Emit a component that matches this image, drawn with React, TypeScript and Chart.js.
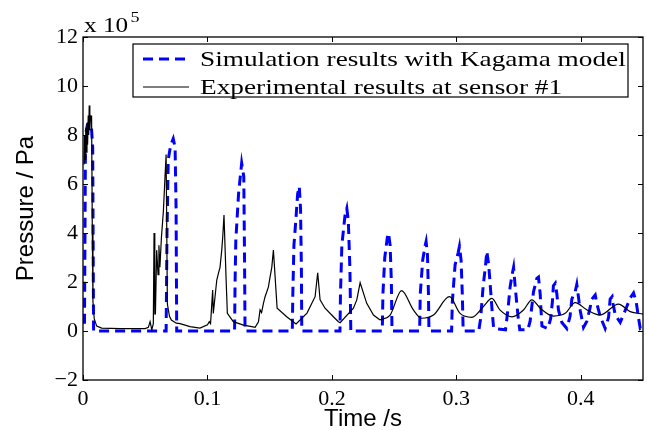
import React, { useEffect, useRef } from 'react';
import { Chart, registerables } from 'chart.js';

Chart.register(...registerables);

// Simulation (Kagama model), pressure in units of 1e5 Pa
const simTime = [
  0.0012, 0.0016, 0.002, 0.0035, 0.005, 0.0068, 0.0078, 0.0082, 0.0085,
  0.0668, 0.0675, 0.0685, 0.0705, 0.0725, 0.074, 0.0748, 0.0753,
  0.1218, 0.1222, 0.1228, 0.125, 0.1275, 0.1292, 0.1298, 0.1302,
  0.1682, 0.1686, 0.1695, 0.171, 0.1725, 0.1738, 0.1748, 0.1755, 0.1758,
  0.2065, 0.2069, 0.208, 0.2105, 0.212, 0.2132, 0.2145, 0.2152,
  0.2405, 0.241, 0.2425, 0.2445, 0.2455, 0.2468, 0.2478, 0.2483,
  0.2705, 0.271, 0.273, 0.275, 0.2757, 0.2768, 0.2776, 0.278,
  0.2962, 0.2968, 0.299, 0.3015, 0.3025, 0.3038, 0.3048, 0.3055,
  0.318, 0.3195, 0.3215, 0.3235, 0.3245, 0.326, 0.3275, 0.3288, 0.33,
  0.3395, 0.3406, 0.3419, 0.3432, 0.3452, 0.346, 0.3473, 0.3486, 0.3499, 0.351,
  0.3575, 0.3593, 0.362, 0.3647, 0.366, 0.3674, 0.368, 0.3688, 0.3735,
  0.3758, 0.3772, 0.378, 0.3795, 0.3808, 0.3821, 0.3848, 0.3888,
  0.3914, 0.3928, 0.3955, 0.3968, 0.3981, 0.3995, 0.4022,
  0.4049, 0.4075, 0.4089, 0.4116, 0.413, 0.4156, 0.4196,
  0.4223, 0.4236, 0.4252, 0.426, 0.4277, 0.4317,
  0.437, 0.4397, 0.4424, 0.4445, 0.4462, 0.4478, 0.45,
];
const simPressure = [
  0.3, 4.0, 8.0, 8.4, 8.5, 8.3, 7.5, 3.0, 0,
  0, 4.0, 7.0, 7.6, 7.85, 7.5, 5.0, 0,
  0, 2.0, 3.7, 5.6, 6.85, 6.3, 3.0, 0,
  0, 1.5, 3.5, 4.5, 5.6, 5.9, 5.0, 2.5, 0,
  0, 1.5, 3.5, 4.7, 5.0, 4.5, 2.5, 0,
  0, 1.5, 3.0, 3.8, 4.0, 3.5, 2.0, 0,
  0, 1.5, 2.9, 3.5, 3.65, 3.1, 1.5, 0,
  0, 1.2, 2.7, 3.2, 3.45, 2.9, 1.5, 0,
  0, 0.5, 1.8, 2.7, 3.25, 2.7, 1.7, 0.8, 0.1,
  0.05, 0.5, 1.1, 1.8, 2.4, 2.6, 1.8, 1.1, 0.45, 0.05,
  0.05, 0.4, 1.6, 2.15, 2.2, 1.5, 0.9, 0.2, 0.1,
  0.5, 1.2, 1.85, 1.95, 1.5, 0.85, 0.35, 0.1,
  0.6, 1.3, 1.6, 1.9, 1.4, 0.85, 0.15,
  0.4, 0.95, 1.3, 1.47, 1.1, 0.6, 0.1,
  0.55, 1.3, 1.4, 1.1, 0.65, 0.35,
  1.0, 1.35, 1.55, 1.2, 0.6, 0.1, 0.15,
];

// Experimental results at sensor #1, pressure in units of 1e5 Pa
const expTime = [
  0.0008, 0.0012, 0.0017, 0.0022, 0.0027, 0.0032, 0.0037, 0.0042, 0.0046, 0.005,
  0.0055, 0.006, 0.0065, 0.0069, 0.0075, 0.008, 0.009, 0.011, 0.015, 0.03,
  0.05, 0.0525, 0.0539, 0.0553, 0.0565, 0.0571, 0.0577, 0.0582, 0.0592, 0.0603,
  0.061, 0.0618, 0.063, 0.0646, 0.066, 0.0668, 0.0678, 0.0695, 0.071, 0.075,
  0.078, 0.086, 0.094, 0.1, 0.1015, 0.1025, 0.1042, 0.1047, 0.1061, 0.1075,
  0.1088, 0.1101, 0.1115, 0.1123, 0.1133, 0.115, 0.116, 0.1208, 0.1289, 0.1356,
  0.1383, 0.141, 0.1423, 0.1435, 0.145, 0.1463, 0.1477, 0.149, 0.1503, 0.1517,
  0.153, 0.156, 0.1637, 0.1704, 0.1712, 0.18, 0.1865, 0.1886, 0.1905, 0.1945,
  0.2012, 0.2052, 0.2066, 0.2173, 0.22, 0.2227, 0.228, 0.2334, 0.2387,
  0.2468, 0.256, 0.2655, 0.272, 0.2816, 0.2945, 0.303, 0.3125, 0.3218, 0.3285,
  0.335, 0.3446, 0.354, 0.3607, 0.3674, 0.378, 0.3875, 0.3955, 0.405, 0.4156,
  0.4303, 0.4397, 0.45,
];
const expPressure = [
  6.8, 8.0, 7.0, 8.3, 7.3, 8.5, 7.6, 8.8, 8.0, 9.2,
  8.2, 8.8, 8.6, 8.8, 4.0, 1.2, 0.5, 0.2, 0.12, 0.1,
  0.1, 0.15, 0.38, 0.05, 0.3, 4.0, 0.7, 0.7, 3.3, 2.3,
  3.5, 2.6, 3.8, 4.9, 6.4, 7.2, 1.1, 0.6, 0.45, 0.32,
  0.3, 0.18, 0.12, 0.25, 0.38, 0.3, 1.67, 0.72, 1.4, 2.08,
  2.35, 2.6, 3.3, 3.85, 4.73, 2.1, 0.72, 0.38, 0.24, 0.18,
  0.15, 0.38, 0.86, 0.75, 1.13, 1.4, 1.6, 1.8, 2.2, 2.6,
  3.3, 0.93, 0.58, 0.32, 0.29, 0.73, 1.4, 2.38, 1.27, 0.93,
  0.58, 0.38, 0.34, 0.93, 1.27, 1.97, 1.13, 0.65, 0.45,
  0.65, 1.65, 0.86, 0.52, 0.65, 1.4, 0.72, 0.56, 1.0, 1.33,
  0.86, 0.58, 0.86, 1.27, 0.93, 0.61, 0.72, 1.16, 0.86, 0.65,
  1.1, 0.79, 0.69,
];
// the later, smooth part of the experimental trace is drawn with monotone interpolation
const expSmoothFrom = 0.2387;

const xTicks = [0, 0.1, 0.2, 0.3, 0.4];
const yTicks = [-2, 0, 2, 4, 6, 8, 10, 12];
const xMin = 0;
const xMax = 0.45;
const yMin = -2;
const yMax = 12;
const simLabel = 'Simulation results with Kagama model';
const expLabel = 'Experimental results at sensor #1';
const xTitle = 'Time /s';
const yTitle = 'Pressure / Pa';
const yMultiplierBase = 'x 10';
const yMultiplierExp = '5';

const SERIF = '"Liberation Serif", "Times New Roman", serif';
const SANS = '"Liberation Sans", Arial, sans-serif';

const decorPlugin = {
  id: 'decor',
  afterDatasetsDraw(chart: any) {
    const { ctx, chartArea: a, scales } = chart;
    const xs = scales.x;
    const ys = scales.y;
    ctx.save();
    ctx.strokeStyle = '#000';
    ctx.lineWidth = 1.3;
    ctx.setLineDash([]);
    ctx.strokeRect(a.left, a.top, a.right - a.left, a.bottom - a.top);
    ctx.lineWidth = 1;
    const tl = 5;
    ctx.beginPath();
    for (const t of xs.ticks) {
      const px = Math.round(xs.getPixelForValue(t.value)) + 0.5;
      ctx.moveTo(px, a.bottom);
      ctx.lineTo(px, a.bottom - tl);
      ctx.moveTo(px, a.top);
      ctx.lineTo(px, a.top + tl);
    }
    for (const t of ys.ticks) {
      const py = Math.round(ys.getPixelForValue(t.value)) + 0.5;
      ctx.moveTo(a.left, py);
      ctx.lineTo(a.left + tl, py);
      ctx.moveTo(a.right, py);
      ctx.lineTo(a.right - tl, py);
    }
    ctx.stroke();

    // multiplier label "x 10^5"
    ctx.fillStyle = '#000';
    ctx.textBaseline = 'alphabetic';
    ctx.save();
    ctx.translate(a.left + 1, 32);
    ctx.scale(1.2, 1);
    ctx.font = `21px ${SERIF}`;
    ctx.fillText(yMultiplierBase, 0, 0);
    const w = ctx.measureText(yMultiplierBase).width;
    ctx.font = `15px ${SERIF}`;
    ctx.fillText(yMultiplierExp, w + 2, -10);
    ctx.restore();

    // legend box
    const lx = 133, ly = 44, lw = 495, lh = 53;
    ctx.fillStyle = '#fff';
    ctx.fillRect(lx, ly, lw, lh);
    ctx.strokeStyle = '#000';
    ctx.lineWidth = 1.2;
    ctx.strokeRect(lx, ly, lw, lh);

    const rows = [
      { label: chart.data.datasets[0].label, color: '#0000ff', width: 3, dash: [10, 6], y: 59 },
      { label: chart.data.datasets[1].label, color: '#000', width: 1.2, dash: [], y: 87 },
    ];
    for (const r of rows) {
      ctx.beginPath();
      ctx.strokeStyle = r.color;
      ctx.lineWidth = r.width;
      ctx.setLineDash(r.dash);
      ctx.moveTo(143, r.y);
      ctx.lineTo(189, r.y);
      ctx.stroke();
      ctx.setLineDash([]);
      ctx.save();
      ctx.translate(200, r.y + 1);
      ctx.scale(1.24, 1);
      ctx.font = `22px ${SERIF}`;
      ctx.fillStyle = '#000';
      ctx.textBaseline = 'middle';
      ctx.fillText(r.label, 0, 0);
      ctx.restore();
    }
    ctx.restore();
  },
};

export default function App() {
  const ref = useRef<HTMLCanvasElement | null>(null);

  useEffect(() => {
    if (!ref.current) return;
    const simPoints = simTime.map((t, i) => ({ x: t, y: simPressure[i] }));
    const expPoints = expTime.map((t, i) => ({ x: t, y: expPressure[i] }));
    const expEarly = expPoints.filter((p) => p.x <= expSmoothFrom);
    const expLate = expPoints.filter((p) => p.x >= expSmoothFrom);

    const chart = new Chart(ref.current, {
      type: 'line',
      data: {
        datasets: [
          {
            label: simLabel,
            data: simPoints,
            borderColor: '#0000ff',
            borderWidth: 3,
            borderDash: [10, 6],
            pointRadius: 0,
            tension: 0,
            order: 2,
          },
          {
            label: expLabel,
            data: expEarly,
            borderColor: '#000000',
            borderWidth: 1.2,
            pointRadius: 0,
            tension: 0,
            order: 1,
          },
          {
            label: expLabel + ' (cont.)',
            data: expLate,
            borderColor: '#000000',
            borderWidth: 1.2,
            pointRadius: 0,
            cubicInterpolationMode: 'monotone',
            order: 1,
          },
        ],
      },
      options: {
        responsive: false,
        animation: false,
        events: [],
        layout: { padding: { left: 0, right: 7, top: 37, bottom: 0 } },
        plugins: {
          legend: { display: false },
          tooltip: { enabled: false },
          title: { display: false },
        },
        scales: {
          x: {
            type: 'linear',
            min: xMin,
            max: xMax,
            grid: { display: false, drawTicks: false },
            border: { display: false },
            afterBuildTicks: (s: any) => {
              s.ticks = xTicks.map((v) => ({ value: v }));
            },
            afterFit: (s: any) => {
              s.height = 50;
            },
            ticks: {
              color: '#000',
              padding: 6,
              maxRotation: 0,
              autoSkip: false,
              font: { family: SERIF, size: 22 },
              callback: (v: any) => String(v),
            },
            title: {
              display: true,
              text: xTitle,
              color: '#000',
              font: { family: SANS, size: 24 },
              padding: { top: 0, bottom: -4 },
            },
          },
          y: {
            type: 'linear',
            min: yMin,
            max: yMax,
            grid: { display: false, drawTicks: false },
            border: { display: false },
            afterBuildTicks: (s: any) => {
              s.ticks = yTicks.map((v) => ({ value: v }));
            },
            afterFit: (s: any) => {
              s.width = 83;
            },
            ticks: {
              color: '#000',
              padding: 5,
              autoSkip: false,
              font: { family: SERIF, size: 22 },
              callback: (v: any) => (v < 0 ? '\u2212' + String(-v) : String(v)),
            },
            title: {
              display: true,
              text: yTitle,
              color: '#000',
              font: { family: SANS, size: 24 },
              padding: { top: 12, bottom: 0 },
            },
          },
        },
      },
      plugins: [decorPlugin],
    });
    return () => chart.destroy();
  }, []);

  return (
    <div style={{ position: 'fixed', left: 0, top: 0, width: 650, height: 430, background: '#fff' }}>
      <canvas ref={ref} width={650} height={430} style={{ display: 'block' }} />
    </div>
  );
}
